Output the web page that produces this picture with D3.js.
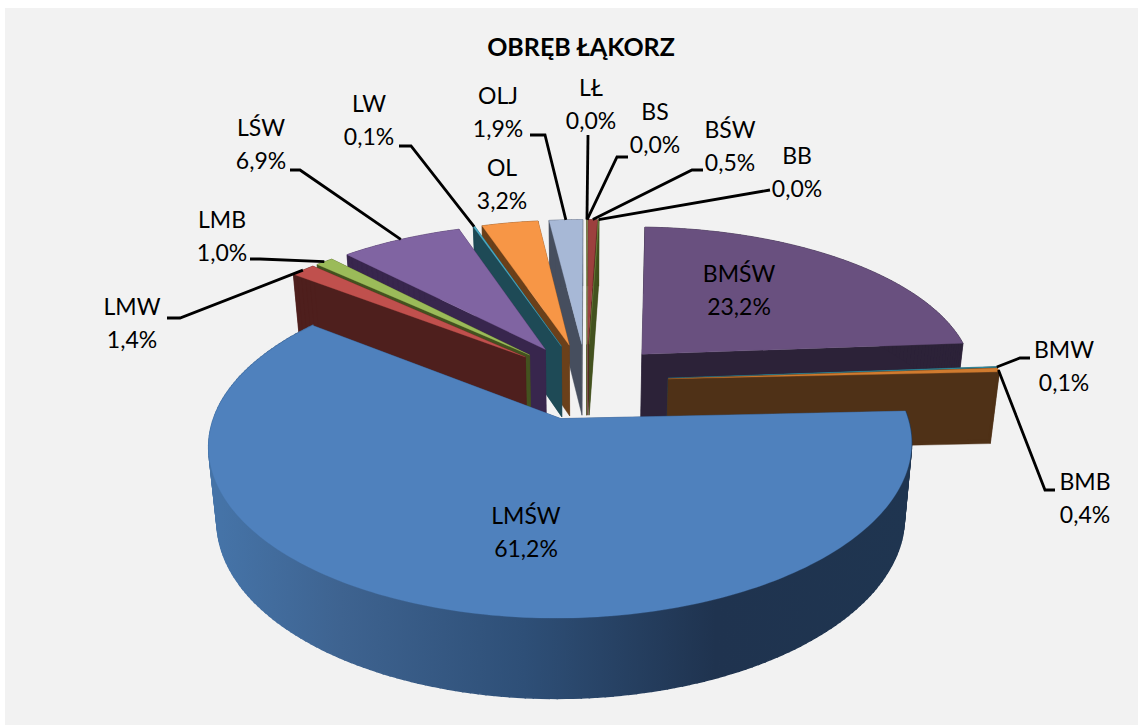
<!DOCTYPE html>
<html><head><meta charset="utf-8">
<script src="https://d3js.org/d3.v7.min.js"></script>
<style>html,body{margin:0;background:#fff}svg{display:block}text{font-family:Lato,"Open Sans",sans-serif;fill:#000}</style>
</head><body><svg id="c" width="1146" height="726"></svg>
<script>
const categories=["LMŚW","LMW","LMB","LŚW","LW","OL","OLJ","LŁ","BS","BŚW","BB","BMŚW","BMW","BMB"];
const values=[61.2,1.4,1.0,6.9,0.1,3.2,1.9,0.01,0.01,0.5,0.03,23.2,0.1,0.4];
const valueLabels=["61,2%","1,4%","1,0%","6,9%","0,1%","3,2%","1,9%","0,0%","0,0%","0,5%","0,0%","23,2%","0,1%","0,4%"];
const topColors=["#4F81BD","#C0504D","#9BBB59","#8064A2","#4BACC6","#F79646","#A7B8D6","#D99694","#C3D69B","#9C403E","#71893F","#69507F","#2F8CA0","#D07B2F"];
const wallColors=["#2C4D75","#4E1F1D","#43521F","#38264D","#1E4A56","#6B401A","#464E5E","#5A2A28","#5A6B30","#5A2423","#43521F","#2C2238","#1E4A56","#4F3117"];
// layout of labels (centre x, first baseline, elbow point)
const labelPos={ "LMŚW":[526,524],"LMW":[132,315,[180,318],[167,318]],"LMB":[222,228,[260,259],[250,259]],
 "LŚW":[261,136,[300,170],[290,170]],"LW":[369,112,[411,146],[399,146]],"OL":[502,176],"OLJ":[498,104,[545,135],[530,135]],
 "LŁ":[591,96,[588,135]],"BS":[655,120,[617,157],[628,157]],"BŚW":[730,138,[692,170],[703,170]],"BB":[797,164,[770,190]],
 "BMŚW":[739,282],"BMW":[1064,358,[1020,358],[1030,358]],"BMB":[1085,490,[1045,490],[1055,490]]};
const P={cx:586.5,cy:381,S:335,Q:155,px:0.15,py:0.157,eps:0.245,depth:72,depthSlope:0.035,shrink:0.978};
const startDeg=87.4;
const svg=d3.select("#c");
svg.append("rect").attr("x",5).attr("y",8).attr("width",1133).attr("height",717).attr("fill","#F2F2F2");
const defs=svg.append("defs");
const g=defs.append("linearGradient").attr("id","wall0").attr("gradientUnits","userSpaceOnUse").attr("x1",207).attr("x2",913).attr("y1",0).attr("y2",0);
[[0.02,"#4573A7"],[0.19,"#3E6390"],[0.45,"#2E4F77"],[0.72,"#1F334F"],[1,"#1F3550"]].forEach(s=>g.append("stop").attr("offset",s[0]).attr("stop-color",s[1]));
const a0=startDeg*Math.PI/180;
const pie=d3.pie().sort(null).startAngle(a0).endAngle(a0+2*Math.PI);
const arcs=pie(values);
function proj(u,v){return [P.cx+P.S*u/(1+P.px*v),P.cy-P.Q*v/(1+P.py*v)];}
const low=q=>[P.cx+(q[0]-P.cx)*P.shrink,q[1]+P.depth+(q[1]-P.cy)*P.depthSlope];
const line=d3.line();
const slices=arcs.map((d,i)=>{
  const m=(d.startAngle+d.endAngle)/2;
  const ox=P.eps*Math.sin(m),oy=P.eps*Math.cos(m);
  const n=Math.max(2,Math.ceil((d.endAngle-d.startAngle)/0.02));
  const rim=d3.range(n+1).map(k=>{const t=d.startAngle+(d.endAngle-d.startAngle)*k/n;return proj(ox+Math.sin(t),oy+Math.cos(t));});
  return {i,m,apex:proj(ox,oy),rim,mid:proj(ox+Math.sin(m),oy+Math.cos(m)),depthKey:oy};
});
const order=slices.slice().sort((a,b)=>b.depthKey-a.depthKey);
const G=svg.append("g");
order.forEach(s=>{
  const col=s.i===0?"url(#wall0)":wallColors[s.i];
  const quad=(a,b)=>[a,b,low(b),low(a)];
  const first=s.rim[0],last=s.rim[s.rim.length-1];
  const walls=[quad(s.apex,last),quad(s.apex,first)].sort((a,b)=>Math.max(a[1][1],a[0][1])-Math.max(b[1][1],b[0][1]));
  walls.forEach(w=>G.append("path").attr("d",line(w)+"Z").attr("fill",wallColors[s.i]).attr("stroke",wallColors[s.i]).attr("stroke-width",.4));
  s.rim.slice(1).forEach((q,k)=>G.append("path").attr("d",line(quad(s.rim[k],q))+"Z").attr("fill",col).attr("stroke",col).attr("stroke-width",s.i===0?1.5:.5));
  G.append("path").attr("d",line([s.apex].concat(s.rim))+"Z").attr("fill",topColors[s.i]).attr("stroke",topColors[s.i]).attr("stroke-width",.3);
});
categories.forEach((c,i)=>{
  const L=labelPos[c];
  if(L.length>2){
    const pts=[slices[i].mid].concat(L.slice(2));
    svg.append("path").attr("d",line(pts)).attr("fill","none").attr("stroke","#000").attr("stroke-width",2.8);
  }
});
categories.forEach((c,i)=>{
  const L=labelPos[c];
  const t=svg.append("text").attr("text-anchor","middle").attr("font-size",23);
  t.append("tspan").attr("x",L[0]).attr("y",L[1]).text(c);
  t.append("tspan").attr("x",L[0]).attr("y",L[1]+33).text(valueLabels[i]);
});
svg.append("text").attr("x",581).attr("y",56).attr("text-anchor","middle").attr("font-size",25).attr("font-weight",700).text("OBRĘB ŁĄKORZ");
</script></body></html>
